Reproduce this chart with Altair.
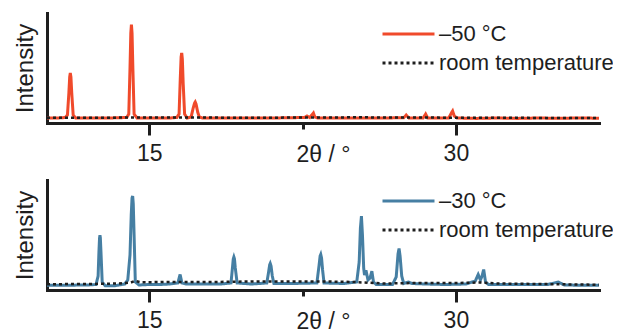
import altair as alt
import pandas as pd

# ---- data (2θ in degrees, intensity in arbitrary units) ----
x_domain = [10, 37]
y_domain = [0, 110]
x_ticks = [15, 22.5, 30]

label_top = "\u201350 \u00b0C"
label_bottom = "\u201330 \u00b0C"
label_rt = "room temperature"

minus50 = [(10.0, 5), (10.5, 5), (10.9, 5.5), (11.0, 8), (11.07, 30), (11.11, 46), (11.14, 50),
           (11.17, 46), (11.21, 30), (11.28, 8), (11.4, 5), (12.0, 5), (13.0, 5), (13.9, 5.5),
           (14.0, 9), (14.06, 55), (14.1, 90), (14.13, 98.5), (14.16, 90), (14.2, 55), (14.26, 9),
           (14.4, 5), (15.0, 5), (16.0, 5), (16.35, 5.5), (16.46, 9), (16.52, 45), (16.56, 66),
           (16.59, 70), (16.62, 64), (16.66, 40), (16.73, 9), (16.85, 5), (17.05, 6), (17.15, 15),
           (17.22, 20), (17.25, 21), (17.29, 19), (17.37, 11), (17.45, 6), (17.6, 5), (19.0, 5),
           (21.0, 5), (22.6, 5.5), (22.72, 7), (22.85, 5.5), (22.95, 8), (23.03, 10), (23.1, 6),
           (23.25, 5), (24.5, 5), (26.0, 5), (27.45, 5.2), (27.57, 8), (27.7, 5), (28.4, 5),
           (28.52, 9), (28.62, 5), (29.65, 5), (29.78, 10), (29.84, 12), (29.92, 7), (30.05, 5),
           (31.0, 4.6), (32.0, 5), (33.0, 4.6), (34.0, 5), (35.0, 4.7), (36.0, 5), (37.0, 4.8)]

rt_top = [(10, 5.3), (12, 5.3), (14, 5.4), (16, 5.4), (18, 5.4), (20, 5.3), (22, 5.4), (24, 5.5),
          (25.5, 5.8), (26, 5.5), (27, 5.4), (28, 5.6), (29, 5.4), (30, 5.2), (32, 5.2),
          (34, 5.1), (36, 5.1), (37, 5.0)]

minus30 = [(10.0, 4.8), (11.0, 4.8), (12.0, 5), (12.4, 5.5), (12.5, 14), (12.54, 38), (12.57, 52),
           (12.59, 54.8), (12.61, 52), (12.64, 38), (12.7, 8), (12.85, 4.2), (13.3, 4.2), (13.8, 6),
           (13.95, 10), (14.06, 35), (14.12, 75), (14.16, 92), (14.19, 94), (14.22, 86), (14.26, 55),
           (14.32, 8), (14.5, 5), (15.0, 5.5), (15.5, 5.5), (16.0, 6), (16.4, 7), (16.51, 15.5),
           (16.6, 7), (16.8, 6), (17.5, 6), (18.5, 6), (19.0, 7), (19.07, 22), (19.11, 31),
           (19.14, 33), (19.17, 31), (19.21, 22), (19.3, 7), (20.0, 6), (20.75, 7), (20.84, 18),
           (20.89, 25), (20.92, 26.5), (20.96, 24), (21.02, 14), (21.1, 6.5), (22.0, 6.5),
           (23.2, 7), (23.31, 25), (23.36, 34), (23.39, 35.5), (23.43, 32), (23.48, 20),
           (23.55, 7), (24.5, 6.5), (25.15, 8), (25.27, 28), (25.33, 62), (25.38, 73.8),
           (25.43, 55), (25.49, 22), (25.53, 15), (25.6, 19.8), (25.7, 10), (25.8, 12),
           (25.89, 18.8), (25.97, 8), (26.1, 5.5), (26.9, 5.5), (27.08, 13), (27.17, 36),
           (27.22, 41.5), (27.27, 34), (27.35, 14), (27.45, 6.5), (27.67, 8), (27.85, 6.5),
           (28.5, 6), (29.5, 5.5), (30.5, 6), (30.95, 9), (31.09, 15.5), (31.2, 10), (31.28, 14),
           (31.36, 20.5), (31.45, 8), (31.6, 5.5), (33.0, 5.5), (34.5, 5.5), (35.01, 8),
           (35.3, 5), (36.0, 4.8), (37.0, 4.8)]

rt_bottom = [(10, 5.8), (12, 6), (13.5, 6.5), (14.1, 7.5), (14.3, 9), (14.6, 7.8), (16, 8), (18, 8),
             (20, 8.5), (22, 8.5), (23.5, 8.6), (25, 8), (26.5, 6.5), (28, 7), (30, 7), (31.2, 7.5),
             (32, 6.5), (34, 6), (36, 5.5), (37, 5.2)]

RED = "#F04A2B"
BLUE = "#467FA3"
BLACK = "#1E1E1E"
FONT = "Liberation Sans"


def panel(main, main_label, color, rt):
    rows = [{"x": x, "y": y, "series": main_label, "order": i} for i, (x, y) in enumerate(main)]
    rows += [{"x": x, "y": y, "series": label_rt, "order": i} for i, (x, y) in enumerate(rt)]
    df = pd.DataFrame(rows)
    dom = [main_label, label_rt]
    legend = alt.Legend(title=None, orient="none", legendX=334, legendY=9,
                        symbolType="stroke", symbolSize=2704, symbolStrokeWidth=3,
                        clipHeight=24, labelLimit=0,
                        labelFontSize=22, labelFont=FONT, labelColor=BLACK,
                        rowPadding=5, labelOffset=3)
    color_enc = alt.Color("series:N", scale=alt.Scale(domain=dom, range=[color, BLACK]), legend=legend)
    dash_enc = alt.StrokeDash("series:N", scale=alt.Scale(domain=dom, range=[[1, 0], [3, 3]]), legend=legend)
    x_enc = alt.X("x:Q", scale=alt.Scale(domain=x_domain, nice=False, zero=False),
                  axis=alt.Axis(values=x_ticks, title="2\u03b8 / \u00b0",
                                labelExpr="datum.value == 22.5 ? '' : datum.label",
                                tickSize={"condition": {"test": "datum.value == 22.5", "value": 6}, "value": 12},
                                labelPadding=7, titleY=38.5, titleBaseline="alphabetic"))
    y_enc = alt.Y("y:Q", scale=alt.Scale(domain=y_domain, nice=False, zero=False),
                  axis=alt.Axis(title="Intensity", labels=False, ticks=False, titlePadding=10,
                                titleFontSize=24))
    base = alt.Chart(df).encode(x=x_enc, y=y_enc, color=color_enc, strokeDash=dash_enc, order="order:Q")
    main_line = base.transform_filter(alt.datum.series == main_label).mark_line(strokeWidth=3)
    rt_line = base.transform_filter(alt.datum.series == label_rt).mark_line(strokeWidth=2.5)
    return alt.layer(main_line, rt_line).properties(width=552, height=110)


top = panel(minus50, label_top, RED, rt_top)
bottom = panel(minus30, label_bottom, BLUE, rt_bottom)

chart = alt.vconcat(top, bottom, spacing=13).resolve_scale(color="independent", strokeDash="independent").properties(
    padding={"left": 5, "top": 5, "right": -1, "bottom": 0}
).configure_axis(
    grid=False, domainWidth=3, domainColor=BLACK, domainCap="square", tickWidth=3, tickColor=BLACK,
    labelFontSize=23, titleFontSize=23, labelFont=FONT, titleFont=FONT, titleFontWeight="normal",
    labelColor=BLACK, titleColor=BLACK
).configure_view(stroke=None)

chart.save("out.html", embed_options={"renderer": "svg", "actions": False})
